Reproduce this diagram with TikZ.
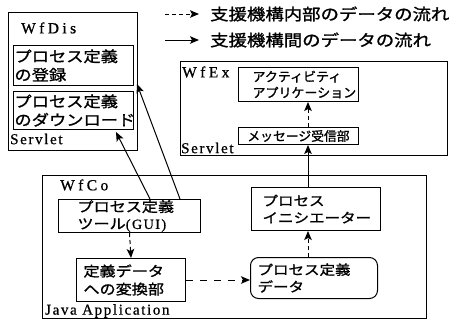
\documentclass[tikz,border=0pt]{standalone}
\usepackage{fontspec}
\setmainfont{Liberation Serif}
\newfontfamily\jp[FakeStretch=1.15,FakeBold=1.2]{Noto Sans CJK JP}
\newfontfamily\jpn[FakeBold=1.2]{Noto Sans CJK JP}
\newfontfamily\lat[LetterSpace=11,FakeBold=0.8]{Liberation Serif}
\newfontfamily\latw[LetterSpace=22,FakeBold=0.8]{Liberation Serif}
\usetikzlibrary{arrows.meta,calc}
\tikzset{
  frame/.style={draw, line width=1pt, anchor=north west, inner sep=0pt},
  box/.style={draw, line width=1pt, anchor=north west, align=left, inner ysep=0pt},
  lbl/.style={anchor=west, inner sep=0pt, font=\lat\fontsize{15}{17}\selectfont},
  ttl/.style={anchor=west, inner sep=0pt, font=\latw\fontsize{15.5}{17}\selectfont},
  flow/.style={line width=1pt, -{Stealth[length=9pt,width=7.5pt,inset=2pt]}},
  dflow/.style={flow, dash pattern=on 4pt off 3pt},
}
\begin{document}
\begin{tikzpicture}[x=1pt,y=-1pt]
\useasboundingbox (0,0) rectangle (450,322);
% containers
\node[frame, minimum width=129pt, minimum height=138pt] (wfdis) at (8,12) {};
\node[frame, minimum width=267pt, minimum height=94pt] (wfex) at (180,61) {};
\node[frame, minimum width=384pt, minimum height=143pt] (wfco) at (42,175) {};
% container labels
\node[ttl] (ldis) at (21,28) {WfDis};
\node[lbl] (lsv1) at (10,139) {Servlet};
\node[ttl] (lex) at (182,72) {WfEx};
\node[lbl] (lsv2) at (181,148) {Servlet};
\node[ttl] (lco) at (60,185) {WfCo};
\node[lbl] (lja) at (45,311) {Java Application};
% WfDis boxes
\node[box, inner xsep=1pt, text width=118pt, minimum height=40pt, font=\jp\fontsize{15}{18.5}\selectfont] (reg) at (13,45) {プロセス定義\\の登録};
\node[box, inner xsep=1pt, text width=118pt, minimum height=38pt, font=\jp\fontsize{15}{18.5}\selectfont] (dl) at (13,91) {プロセス定義\\のダウンロード};
% WfEx boxes
\node[box, inner xsep=14pt, text width=92pt, minimum height=34pt, font=\jpn\fontsize{13}{16}\selectfont] (app) at (238,67) {アクティビティ\\アプリケーション};
\node[box, align=center, inner xsep=0pt, minimum width=120pt, minimum height=17pt, font=\jpn\fontsize{12.8}{15}\selectfont] (msg) at (238,127) {メッセージ受信部};
% WfCo boxes
\node[box, inner xsep=19pt, text width=104pt, minimum height=33pt, font=\jp\fontsize{14}{17}\selectfont] (tool) at (58,199) {プロセス定義\\ツール{\lat (GUI)}};
\node[box, inner xsep=7pt, text width=95pt, minimum height=43pt, font=\jp\fontsize{14}{18}\selectfont] (conv) at (76,258) {定義データ\\への変換部};
\node[box, inner xsep=11pt, text width=107pt, minimum height=43pt, font=\jp\fontsize{13.5}{17}\selectfont] (init) at (251,187) {プロセス\\イニシエーター};
\node[box, rounded corners=8pt, inner xsep=7pt, text width=113pt, minimum height=41pt, font=\jp\fontsize{13.5}{17}\selectfont] (data) at (250,257) {プロセス定義\\データ};
% legend
\coordinate (l1a) at (165,14);
\coordinate (l1b) at (199,14);
\coordinate (l2a) at (165,40);
\coordinate (l2b) at (199,40);
\draw[dflow] (l1a) -- (l1b);
\draw[flow] (l2a) -- (l2b);
\node[anchor=west, inner sep=0pt, font=\jp\fontsize{16}{18}\selectfont] (leg1) at (210,14) {支援機構内部のデータの流れ};
\node[anchor=west, inner sep=0pt, font=\jp\fontsize{16}{18}\selectfont] (leg2) at (210,40) {支援機構間のデータの流れ};
% flows
\coordinate (ax) at (308,0);
\draw[dflow] (tool.south) -- (conv.north);
\draw[dflow, dash pattern=on 7pt off 7pt] (conv.east) -- (conv.east -| data.west);
\draw[dflow] (data.north -| ax) -- (init.south -| ax);
\draw[flow] (init.north -| ax) -- (msg.south -| ax);
\draw[dflow] (msg.north -| ax) -- (app.south -| ax);
\draw[flow] ($(tool.north west)+(92,0)$) -- ($(dl.south west)+(103,2)$);
\draw[flow] ($(tool.north west)+(122,0)$) -- ($(reg.south east)+(3,-2)$);
\end{tikzpicture}
\end{document}
